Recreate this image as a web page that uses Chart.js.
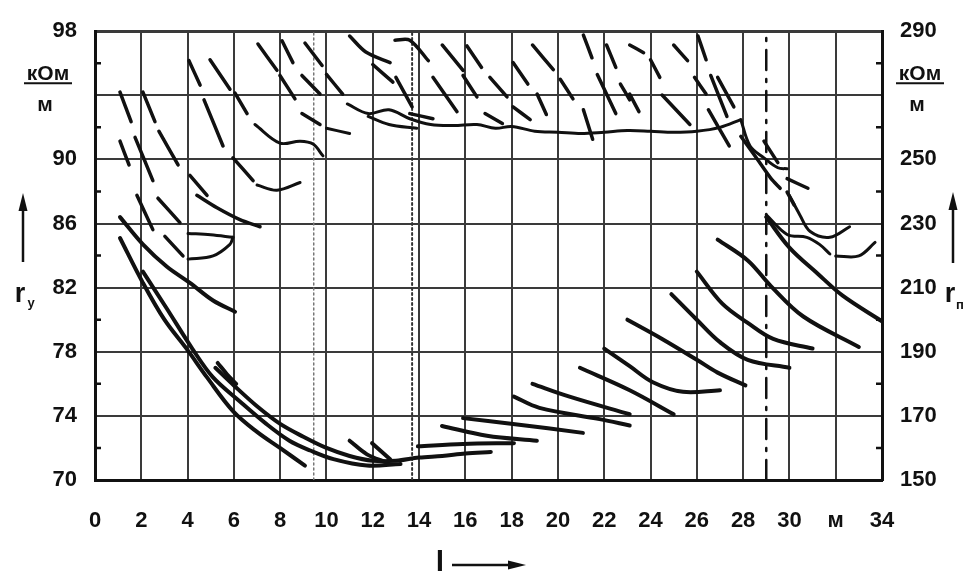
<!DOCTYPE html>
<html>
<head>
<meta charset="utf-8">
<script src="https://cdn.jsdelivr.net/npm/chart.js@4/dist/chart.umd.min.js"></script>
<style>
  html, body { margin: 0; padding: 0; background: #fff; }
  #wrap { width: 965px; height: 571px; }
</style>
</head>
<body>
<div id="wrap"><canvas id="graph" width="965" height="571"></canvas></div>
<script>
// axis ticks
const xTicks = [0, 2, 4, 6, 8, 10, 12, 14, 16, 18, 20, 22, 24, 26, 28, 30, 32, 34];
const ryTicks = [70, 74, 78, 82, 86, 90, 94, 98];
const ryMinorTicks = [72, 76, 80, 84, 88, 92, 96];
const rpTicks = [150, 170, 190, 210, 230, 250, 270, 290];
const unitLabel = ['кОм', 'м'];
const xUnitTick = 32;

// vertical marks: two dotted, one dash-dot
const dottedX = [9.45, 13.7];
const dashDotX = [29.0];

// r_y curves (left axis, solid), [l, r_y]
const ryCurves = [
  [[1.08, 86.4], [2.07, 84.7], [3.11, 83.3], [4.1, 82.3], [5.1, 81.2], [6.05, 80.5]],
  [[1.08, 85.1], [2.07, 82.3], [3.0, 80.0], [4.0, 78.1], [4.84, 76.4], [5.96, 74.3], [7.0, 73.0], [7.99, 72.0], [9.07, 70.9]],
  [[2.07, 83.0], [3.1, 80.7], [4.2, 78.2], [5.1, 76.4], [6.26, 74.9], [7.4, 73.5], [8.4, 72.45], [9.3, 71.84], [10.3, 71.3], [11.75, 70.9], [13.2, 71.0]],
  [[5.2, 77.0], [6.0, 75.9], [7.0, 74.6], [8.0, 73.5], [9.0, 72.7], [10.0, 72.0], [11.0, 71.5], [12.0, 71.2], [13.0, 71.2], [14.0, 71.4], [15.0, 71.5], [16.0, 71.65], [17.1, 71.75]],
  [[5.3, 77.3], [5.7, 76.6], [6.1, 76.0]],
  [[11.0, 72.45], [11.75, 71.6], [12.6, 71.1]],
  [[11.97, 72.3], [12.75, 71.3]],
  [[13.95, 72.1], [15.9, 72.25], [18.1, 72.3]],
  [[14.99, 73.37], [16.93, 72.76], [19.09, 72.45]],
  [[15.9, 73.86], [18.06, 73.5], [21.08, 72.94]],
  [[18.1, 75.2], [19.2, 74.5], [21.8, 73.8], [23.1, 73.4]],
  [[18.9, 76.0], [20.5, 75.2], [23.1, 74.1]],
  [[20.95, 77.0], [23.1, 75.6], [25.0, 74.1]],
  [[22.0, 78.2], [23.1, 77.1], [24.1, 76.1], [25.4, 75.5], [27.0, 75.6]],
  [[23.0, 80.0], [24.5, 78.8], [26.0, 77.5], [26.9, 76.7], [28.1, 75.9]],
  [[24.9, 81.6], [26.0, 80.0], [27.0, 78.6], [28.2, 77.5], [30.0, 77.0]],
  [[26.0, 83.0], [27.1, 81.0], [28.2, 79.8], [29.3, 78.8], [31.0, 78.2]],
  [[26.9, 85.0], [28.2, 83.7], [29.2, 82.1], [30.6, 80.2], [33.0, 78.3]],
  [[29.0, 86.4], [30.0, 84.5], [31.2, 82.9], [32.3, 81.5], [34.0, 79.9]]
];

// r_п traces (right axis), short strokes, [l, r_п]
const rpStrokes = [
  [[1.08, 271], [1.56, 261.8]], [[2.07, 271], [2.59, 261.8]], [[1.08, 255.7], [1.47, 248.3]],
  [[1.73, 256.9], [2.5, 243.4]], [[2.76, 258.8], [3.59, 248.3]], [[4.06, 280.8], [4.54, 273.2]],
  [[4.97, 281.1], [5.83, 271.9]], [[4.71, 268.6], [5.53, 254.2]], [[6.05, 270.7], [6.57, 264.3]],
  [[5.96, 250.5], [6.83, 243.4]], [[7.04, 286], [7.86, 277.8]], [[8.08, 287], [8.55, 280.2]],
  [[7.99, 276.2], [8.64, 268.9]], [[9.07, 286.3], [9.81, 279.3]], [[8.94, 276.2], [9.72, 270.4]],
  [[8.94, 264.3], [9.72, 260.9]], [[4.1, 245], [4.84, 238.8]], [[1.81, 238.8], [2.5, 228.1]],
  [[2.72, 237.9], [3.67, 230.3]], [[4.4, 238.8], [5.27, 234.9], [6.26, 231.2], [7.13, 229]],
  [[3.02, 226], [3.8, 219.9]],
  [[11.0, 288.5], [11.7, 283.5], [12.75, 280.2]], [[12.0, 279.6], [12.87, 274.1]],
  [[12.96, 287.2], [13.6, 287.2], [14.4, 280.8]], [[10.0, 276.5], [10.7, 270.4]],
  [[13.0, 275.6], [13.7, 266.4]], [[15.0, 285.7], [15.9, 277.8]], [[16.07, 285.4], [16.7, 278.7]],
  [[14.6, 275.6], [15.64, 264.9]], [[15.9, 276.2], [16.5, 269.5]], [[17.06, 275.6], [17.8, 269.5]],
  [[18.06, 280.2], [18.7, 273.5]], [[18.9, 285.7], [19.8, 278]], [[19.1, 270.4], [19.5, 264]],
  [[20.1, 275], [20.65, 268.9]], [[21.1, 288.8], [21.47, 281.7]], [[22.1, 285.7], [22.5, 278.7]],
  [[21.7, 276.5], [22.5, 264.3]], [[22.7, 273.5], [23.1, 268.6]], [[16.85, 264.3], [17.6, 261.2]],
  [[18.06, 266.4], [18.8, 262.4]], [[21.1, 265.5], [21.5, 256.3]], [[13.6, 264.3], [14.6, 262.7]],
  [[23.1, 285.7], [23.7, 283.3]], [[24.0, 281.1], [24.4, 275.6]], [[25.0, 285.7], [25.6, 280.8]],
  [[26.05, 288.5], [26.4, 281.1]], [[23.1, 270.4], [23.5, 264.9]], [[24.5, 270.1], [25.7, 260.9]],
  [[25.9, 275.6], [26.4, 270.4]], [[26.6, 276.2], [27.3, 263.4]], [[26.9, 275.6], [27.6, 266.4]],
  [[26.5, 265.5], [27.4, 254.2]], [[27.9, 257.2], [28.6, 250.2], [29.2, 244.1], [29.6, 241]],
  [[28.9, 255.7], [29.5, 249]], [[29.9, 244], [30.8, 241]], [[29.9, 239.8], [30.2, 235.8]]
];

// r_п continuous traces (right axis)
const rpTraces = [
  [[10.9, 267.3], [11.8, 264.3], [12.7, 265.5], [13.6, 262.7], [14.5, 260.9], [15.5, 260.6], [16.5, 260.9], [17.3, 259.7], [18.0, 260.3], [19.0, 258.8], [20.0, 258.5], [21.0, 258.1], [22.0, 258.5], [23.0, 259], [24.0, 258.8], [25.0, 258.5], [26.0, 258.8], [27.0, 260], [27.9, 262.4]],
  [[11.8, 263.4], [12.7, 260.9], [13.9, 259.7]],
  [[27.9, 262.4], [28.3, 254.2], [28.9, 250.5], [29.5, 247.4], [29.9, 247.1]],
  [[6.91, 260.9], [7.99, 255.1], [8.86, 255.7], [9.42, 254.8], [9.85, 251.1]],
  [[7.0, 242], [7.86, 240.4], [8.86, 242.8]],
  [[4.02, 226.9], [5.0, 226.5], [5.96, 225.7]],
  [[4.02, 218.9], [5.1, 219.9], [5.83, 223.5], [5.96, 225.7]],
  [[10.0, 259.7], [11.0, 258.1]],
  [[30.0, 238.8], [30.45, 232.7], [30.9, 227.5], [31.75, 225.7], [32.6, 229]],
  [[29.0, 232.7], [29.9, 226.6], [30.75, 225.7], [31.3, 223.5], [31.75, 220.5]],
  [[32.0, 219.9], [33.0, 219.9], [33.7, 224.1]]
];

const INK = '#111';
const GRID = '#3a3a3a';
const FONT = "'Liberation Sans', Arial, sans-serif";

const toPts = arr => arr.map(p => ({ x: p[0], y: p[1] }));

const datasets = [];
ryCurves.forEach(c => datasets.push({ data: toPts(c), yAxisID: 'y', borderWidth: 4, tension: 0.35 }));
rpStrokes.forEach(c => datasets.push({ data: toPts(c), yAxisID: 'y1', borderWidth: 3.5, tension: 0.3 }));
rpTraces.forEach(c => datasets.push({ data: toPts(c), yAxisID: 'y1', borderWidth: 3, tension: 0.35 }));
dottedX.forEach((v, i) => datasets.push({
  data: [{ x: v, y: ryTicks[0] }, { x: v, y: ryTicks[ryTicks.length - 1] }], yAxisID: 'y',
  borderWidth: i === 0 ? 1.5 : 2, borderDash: [2, 3], borderColor: i === 0 ? '#777' : '#333'
}));
dashDotX.forEach(v => datasets.push({
  data: [{ x: v, y: ryTicks[0] }, { x: v, y: ryTicks[ryTicks.length - 1] }], yAxisID: 'y',
  borderWidth: 2.5, borderDash: [20, 9, 3, 9]
}));
datasets.forEach(d => {
  d.showLine = true;
  d.pointRadius = 0;
  d.borderColor = d.borderColor || INK;
  d.borderCapStyle = 'round';
});

function arrowUp (ctx, x, y0, y1) {
  ctx.beginPath(); ctx.moveTo(x, y0); ctx.lineTo(x, y1 + 12); ctx.stroke();
  ctx.beginPath(); ctx.moveTo(x, y1); ctx.lineTo(x - 4.5, y1 + 18); ctx.lineTo(x + 4.5, y1 + 18); ctx.closePath(); ctx.fill();
}

function unitText (ctx, cx, py) {
  ctx.font = 'bold 21px ' + FONT;
  ctx.textAlign = 'center';
  ctx.textBaseline = 'alphabetic';
  ctx.fillText(unitLabel[0], cx, py - 15);
  ctx.lineWidth = 2;
  ctx.beginPath(); ctx.moveTo(cx - 24, py - 12); ctx.lineTo(cx + 24, py - 12); ctx.stroke();
  ctx.fillText(unitLabel[1], cx - 3, py + 16);
}

const decor = {
  id: 'decor',
  afterDraw (chart) {
    const { ctx, chartArea: a, scales } = chart;
    const y = scales.y;
    ctx.save();
    ctx.strokeStyle = INK;
    ctx.fillStyle = INK;
    ctx.lineWidth = 2.5;
    ryMinorTicks.forEach(v => {
      const py = y.getPixelForValue(v);
      ctx.beginPath();
      ctx.moveTo(a.left, py); ctx.lineTo(a.left + 6, py);
      ctx.moveTo(a.right - 6, py); ctx.lineTo(a.right, py);
      ctx.stroke();
    });
    const uy = y.getPixelForValue(ryTicks[6]);
    unitText(ctx, 48, uy);
    unitText(ctx, 920, uy);

    // r_y and r_п symbols
    ctx.lineWidth = 2.5;
    arrowUp(ctx, 23, 262, 193);
    arrowUp(ctx, 953, 263, 192);
    ctx.textAlign = 'center';
    ctx.font = 'bold 27px ' + FONT;
    ctx.fillText('r', 20, 302);
    ctx.fillText('r', 950, 302);
    ctx.font = 'bold 13px ' + FONT;
    ctx.fillText('у', 31, 307);
    ctx.fillText('п', 960, 309);

    // l with arrow
    ctx.font = 'bold 30px ' + FONT;
    ctx.fillText('l', 440, 572);
    ctx.lineWidth = 2.5;
    ctx.beginPath(); ctx.moveTo(452, 565); ctx.lineTo(512, 565); ctx.stroke();
    ctx.beginPath(); ctx.moveTo(526, 565); ctx.lineTo(508, 560.5); ctx.lineTo(508, 569.5); ctx.closePath(); ctx.fill();
    ctx.restore();
  }
};

const tickFont = { family: FONT, size: 22, weight: 'bold' };

new Chart(document.getElementById('graph').getContext('2d'), {
  type: 'scatter',
  data: { datasets },
  plugins: [decor],
  options: {
    responsive: false,
    animation: false,
    devicePixelRatio: 1,
    layout: { padding: { top: 23, left: 0, right: 0, bottom: 0 } },
    plugins: { legend: { display: false }, tooltip: { enabled: false } },
    scales: {
      x: {
        type: 'linear', min: xTicks[0], max: xTicks[xTicks.length - 1],
        afterFit: s => { s.height = 91; },
        afterBuildTicks: s => { s.ticks = xTicks.map(v => ({ value: v })); },
        ticks: {
          color: INK, font: tickFont, padding: 28, maxRotation: 0, autoSkip: false,
          callback: v => (v === xUnitTick ? 'м' : String(v))
        },
        grid: { color: GRID, lineWidth: 2, drawTicks: false },
        border: { color: INK, width: 3 }
      },
      y: {
        type: 'linear', position: 'left', min: ryTicks[0], max: ryTicks[ryTicks.length - 1],
        afterFit: s => { s.width = 95; },
        afterBuildTicks: s => { s.ticks = ryTicks.map(v => ({ value: v })); },
        ticks: {
          color: INK, font: tickFont, padding: 18,
          callback: v => (v === ryTicks[6] ? '' : String(v))
        },
        grid: { color: GRID, lineWidth: c => (c.tick && c.tick.value === ryTicks[ryTicks.length - 1] ? 3 : 2), drawTicks: false },
        border: { color: INK, width: 3 }
      },
      y1: {
        type: 'linear', position: 'right', min: rpTicks[0], max: rpTicks[rpTicks.length - 1],
        afterFit: s => { s.width = 83; },
        afterBuildTicks: s => { s.ticks = rpTicks.map(v => ({ value: v })); },
        ticks: {
          color: INK, font: tickFont, padding: 18,
          callback: v => (v === rpTicks[6] ? '' : String(v))
        },
        grid: { display: false, drawTicks: false },
        border: { color: INK, width: 3 }
      }
    }
  }
});
</script>
</body>
</html>
